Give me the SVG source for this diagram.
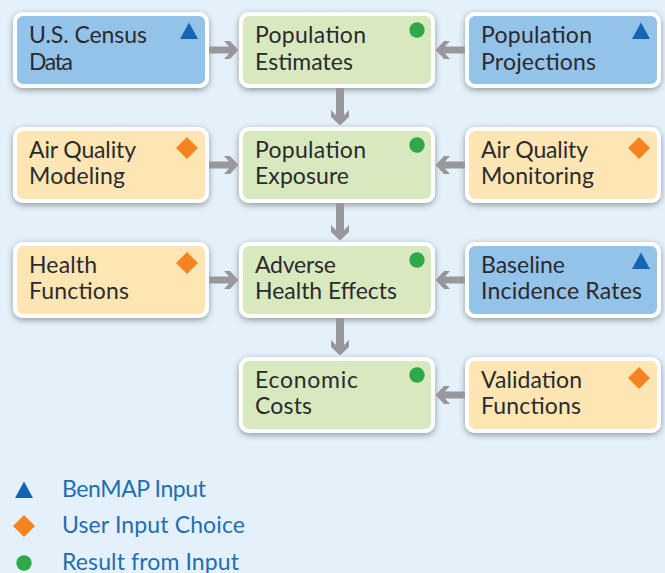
<svg xmlns="http://www.w3.org/2000/svg" width="665" height="573" viewBox="0 0 665 573">
<style>
.box{stroke:#fff;stroke-width:4;filter:url(#sh)}
.b{fill:#94c3ea}.o{fill:#fee6b4}.g{fill:#d8e9c0}
.t{font-family:"Lato","Noto Sans",sans-serif;font-size:23px;fill:#2b2a2c}
.l{font-family:"Lato","Noto Sans",sans-serif;font-size:23px;fill:#1f6db5}
.tri{fill:#1565b2}.dia{fill:#f68322}.cir{fill:#2fa84a}
.c{fill:#98989c}
</style>
<defs>
<filter id="sh" x="-15%" y="-25%" width="130%" height="160%"><feDropShadow dx="0" dy="2" stdDeviation="3" flood-color="#000" flood-opacity="0.38"/></filter>
<symbol id="up" overflow="visible"><path class="tri" d="M-9,9 L0,-7.500 L9,9Z"/></symbol>
<symbol id="di" overflow="visible"><path class="dia" d="M0,-11 L11,0 L0,11 L-11,0Z"/></symbol>
<symbol id="ci" overflow="visible"><circle class="cir" r="7.700"/></symbol>
<path id="ar" class="c" d="M0,-3.500 H20 L15,-9 H21 L29.500,0 L21,9 H15 L20,3.500 H0Z"/>
<path id="av" class="c" d="M0,-4 H27 L22,-9 H29 L37.500,0 L29,9 H22 L27,4 H0Z"/>
</defs>
<rect width="665" height="573" fill="#e4f1fa"/>
<g id="census"><rect class="box b" x="15" y="14" width="192" height="72" rx="8"/><text class="t" x="29" y="42.500" textLength="118">U.S. Census</text><text class="t" x="29" y="69.500" textLength="44">Data</text><use href="#up" x="189" y="30"/></g>
<g id="estimates"><rect class="box g" x="241" y="14" width="192" height="72" rx="8"/><text class="t" x="255" y="42.500" textLength="111">Population</text><text class="t" x="255" y="69.500" textLength="98">Estimates</text><use href="#ci" x="417" y="30"/></g>
<g id="projections"><rect class="box b" x="467" y="14" width="192" height="72" rx="8"/><text class="t" x="481" y="42.500" textLength="111">Population</text><text class="t" x="481" y="69.500" textLength="115">Projections</text><use href="#up" x="641" y="30"/></g>
<g id="modeling"><rect class="box o" x="15" y="129" width="192" height="72" rx="8"/><text class="t" x="29" y="157.500" textLength="107">Air Quality</text><text class="t" x="29" y="184" textLength="96">Modeling</text><use href="#di" x="187" y="148"/></g>
<g id="exposure"><rect class="box g" x="241" y="129" width="192" height="72" rx="8"/><text class="t" x="255" y="157.500" textLength="111">Population</text><text class="t" x="255" y="184" textLength="94">Exposure</text><use href="#ci" x="417" y="145"/></g>
<g id="monitoring"><rect class="box o" x="467" y="129" width="192" height="72" rx="8"/><text class="t" x="481" y="157.500" textLength="107">Air Quality</text><text class="t" x="481" y="184" textLength="113">Monitoring</text><use href="#di" x="639" y="148"/></g>
<g id="health"><rect class="box o" x="15" y="244" width="192" height="72" rx="8"/><text class="t" x="29" y="272.500" textLength="68">Health</text><text class="t" x="29" y="299" textLength="100">Functions</text><use href="#di" x="187" y="263"/></g>
<g id="effects"><rect class="box g" x="241" y="244" width="192" height="72" rx="8"/><text class="t" x="255" y="272.500" textLength="81">Adverse</text><text class="t" x="255" y="299" textLength="142">Health Effects</text><use href="#ci" x="417" y="260"/></g>
<g id="baseline"><rect class="box b" x="467" y="244" width="192" height="72" rx="8"/><text class="t" x="481" y="272.500" textLength="84">Baseline</text><text class="t" x="481" y="299" textLength="161">Incidence Rates</text><use href="#up" x="641" y="260"/></g>
<g id="costs"><rect class="box g" x="241" y="359" width="192" height="72" rx="8"/><text class="t" x="255" y="387.500" textLength="103">Economic</text><text class="t" x="255" y="414" textLength="57">Costs</text><use href="#ci" x="417" y="375"/></g>
<g id="validation"><rect class="box o" x="467" y="359" width="192" height="72" rx="8"/><text class="t" x="481" y="387.500" textLength="101">Validation</text><text class="t" x="481" y="414" textLength="100">Functions</text><use href="#di" x="639" y="378"/></g>
<g id="connectors">
<use href="#ar" x="209" y="50"/>
<use href="#ar" x="209" y="165"/>
<use href="#ar" x="209" y="280"/>
<use href="#ar" transform="translate(465,50) scale(-1,1)"/>
<use href="#ar" transform="translate(465,165) scale(-1,1)"/>
<use href="#ar" transform="translate(465,280) scale(-1,1)"/>
<use href="#ar" transform="translate(465,395) scale(-1,1)"/>
<use href="#av" transform="translate(340,88) rotate(90)"/>
<use href="#av" transform="translate(340,203) rotate(90)"/>
<use href="#av" transform="translate(340,318) rotate(90)"/>
</g>
<g id="legend-input"><use href="#up" x="24" y="489"/><text class="l" x="62" y="497" textLength="144">BenMAP Input</text></g>
<g id="legend-choice"><use href="#di" x="24" y="526"/><text class="l" x="62" y="533" textLength="183">User Input Choice</text></g>
<g id="legend-result"><use href="#ci" x="24" y="563"/><text class="l" x="62" y="570" textLength="177">Result from Input</text></g>
</svg>
